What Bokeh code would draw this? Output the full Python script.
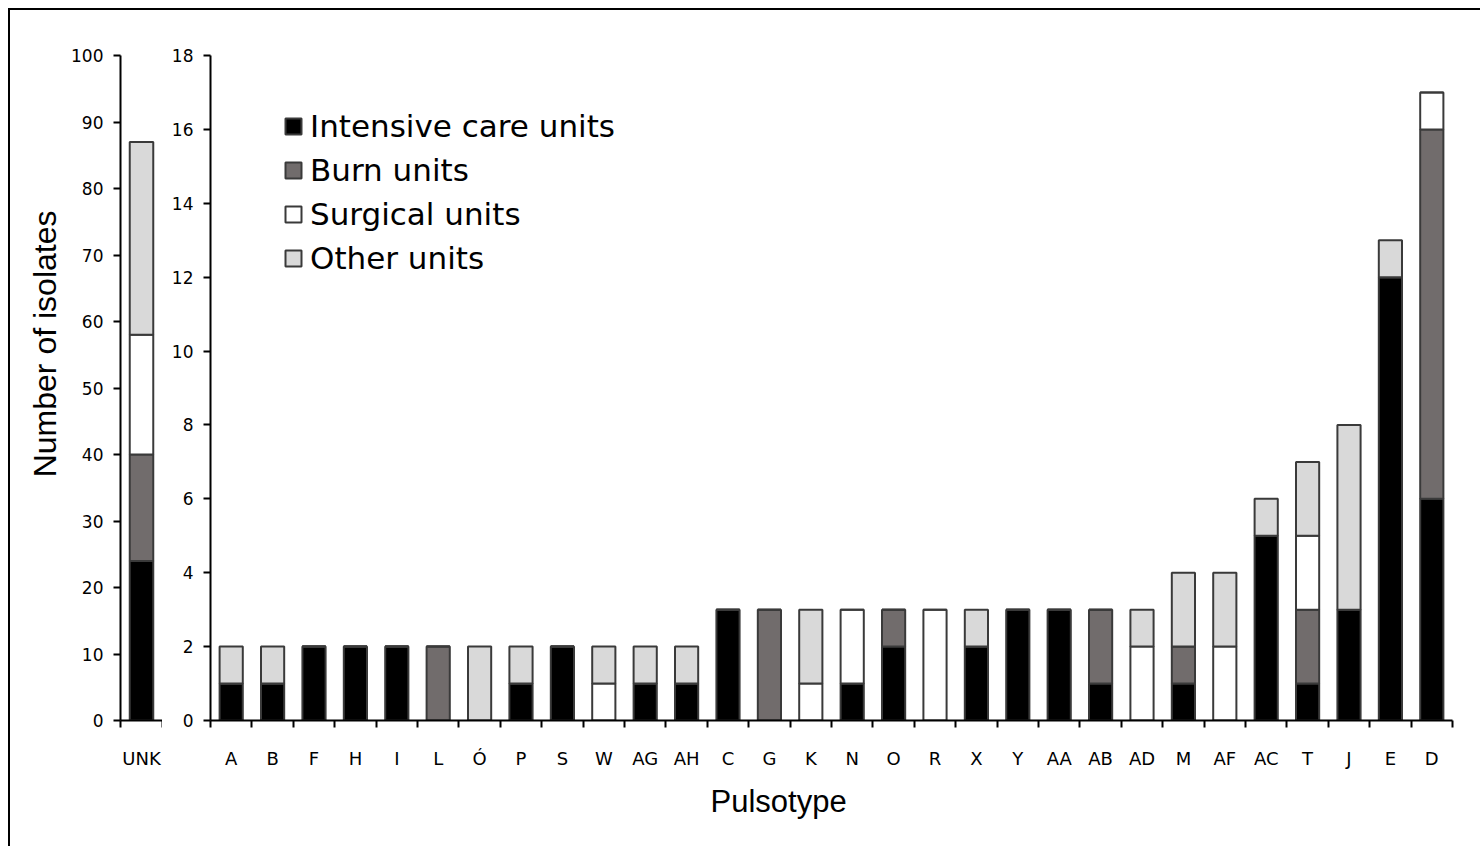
from bokeh.plotting import figure
from bokeh.models import ColumnDataSource, FixedTicker, Range1d, Title
from bokeh.layouts import row
from bokeh.embed import file_html
from bokeh.resources import INLINE

# ---- data ----
unk_categories = ["UNK"]
unk_icu = [24]
unk_burn = [16]
unk_surgical = [18]
unk_other = [29]

categories = ["A", "B", "F", "H", "I", "L", "Ó", "P", "S", "W", "AG", "AH", "C", "G", "K",
              "N", "O", "R", "X", "Y", "AA", "AB", "AD", "M", "AF", "AC", "T", "J", "E", "D"]
icu      = [1, 1, 2, 2, 2, 0, 0, 1, 2, 0, 1, 1, 3, 0, 0, 1, 2, 0, 2, 3, 3, 1, 0, 1, 0, 5, 1, 3, 12, 6]
burn     = [0, 0, 0, 0, 0, 2, 0, 0, 0, 0, 0, 0, 0, 3, 0, 0, 1, 0, 0, 0, 0, 2, 0, 1, 0, 0, 2, 0, 0, 10]
surgical = [0, 0, 0, 0, 0, 0, 0, 0, 0, 1, 0, 0, 0, 0, 1, 2, 0, 3, 0, 0, 0, 0, 2, 0, 2, 0, 2, 0, 0, 1]
other    = [1, 1, 0, 0, 0, 0, 2, 1, 0, 1, 1, 1, 0, 0, 2, 0, 0, 0, 1, 0, 0, 0, 1, 2, 2, 1, 2, 5, 1, 0]

series_names = ["Intensive care units", "Burn units", "Surgical units", "Other units"]
left_ticks = list(range(0, 101, 10))
right_ticks = list(range(0, 19, 2))

# ---- styles ----
fills = ["#000000", "#716c6c", "#ffffff", "#d9d9d9"]
edge = "#3a3a3a"
stackers = ["icu", "burn", "surgical", "other"]
TICK_FONT = "DejaVu Sans"
H = 836
TOP = 45
BOTTOM = 126


def style_axes(p, yticks):
    p.xgrid.visible = False
    p.ygrid.visible = False
    p.outline_line_color = None
    p.background_fill_color = "white"
    p.border_fill_color = "white"
    for ax in (p.xaxis[0], p.yaxis[0]):
        ax.axis_line_color = "black"
        ax.axis_line_width = 2
        ax.major_label_text_color = "black"
        ax.major_label_text_font = TICK_FONT
    ya = p.yaxis[0]
    ya.ticker = FixedTicker(ticks=yticks)
    ya.major_tick_out = 7
    ya.major_tick_in = 0
    ya.major_tick_line_width = 2
    ya.major_tick_line_color = "black"
    ya.minor_tick_line_color = None
    ya.major_label_text_font_size = "17px"
    ya.major_label_standoff = 10
    xa = p.xaxis[0]
    xa.major_tick_out = 0
    xa.major_tick_in = 0
    xa.major_tick_line_color = None
    xa.minor_tick_out = 7
    xa.minor_tick_in = 0
    xa.minor_tick_line_width = 2
    xa.minor_tick_line_color = "black"
    xa.major_label_text_font_size = "18px"
    xa.major_label_standoff = 20


# ---- left panel (UNK) ----
src1 = ColumnDataSource(dict(x=list(range(len(unk_categories))), icu=unk_icu, burn=unk_burn,
                             surgical=unk_surgical, other=unk_other))
p1 = figure(width=152, height=H, output_backend="svg", toolbar_location=None,
            x_range=Range1d(-0.5, len(unk_categories) - 0.5), y_range=Range1d(0, 100),
            min_border_left=110, min_border_right=0, min_border_top=TOP, min_border_bottom=BOTTOM)
p1.vbar_stack(stackers, x="x", width=0.56, source=src1, fill_color=fills,
              line_color=edge, line_width=2)
style_axes(p1, left_ticks)
p1.xaxis[0].ticker = FixedTicker(ticks=list(range(len(unk_categories))),
                                 minor_ticks=[i - 0.5 for i in range(len(unk_categories) + 1)])
p1.xaxis[0].major_label_overrides = {i: c for i, c in enumerate(unk_categories)}
p1.add_layout(Title(text="Number of isolates", align="right", offset=155, standoff=12,
                    text_font="Liberation Sans", text_font_size="32px",
                    text_font_style="normal", text_color="black"), "left")

# ---- right panel ----
src2 = ColumnDataSource(dict(x=list(range(len(categories))), icu=icu, burn=burn,
                             surgical=surgical, other=other))
p2 = figure(width=1318, height=H, output_backend="svg", toolbar_location=None,
            x_range=Range1d(-0.5, len(categories) - 0.5), y_range=Range1d(0, 18),
            min_border_left=48, min_border_right=28, min_border_top=TOP, min_border_bottom=BOTTOM)
p2.vbar_stack(stackers, x="x", width=0.56, source=src2, fill_color=fills,
              line_color=edge, line_width=2, legend_label=series_names)
style_axes(p2, right_ticks)
p2.xaxis[0].ticker = FixedTicker(ticks=list(range(len(categories))),
                                 minor_ticks=[i - 0.5 for i in range(len(categories) + 1)])
p2.xaxis[0].major_label_overrides = {i: c for i, c in enumerate(categories)}
p2.add_layout(Title(text="Pulsotype", align="left", offset=500, standoff=20,
                    text_font="Liberation Sans", text_font_size="31px",
                    text_font_style="normal", text_color="black"), "below")

lg = p2.legend[0]
lg.location = (73, 440)
lg.padding = 0
lg.margin = 0
lg.spacing = 0
lg.border_line_color = None
lg.background_fill_alpha = 0
lg.glyph_width = 20
lg.glyph_height = 20
lg.label_height = 44
lg.label_standoff = 7
lg.label_text_font = "DejaVu Sans"
lg.label_text_font_size = "31px"
lg.label_text_color = "black"
lg.label_text_baseline = "middle"

layout = row(p1, p2, spacing=0, margin=(8, 0, 0, 8),
             styles={"border-top": "2px solid black", "border-left": "2px solid black"})

open("out.html", "w").write(file_html(layout, INLINE))
